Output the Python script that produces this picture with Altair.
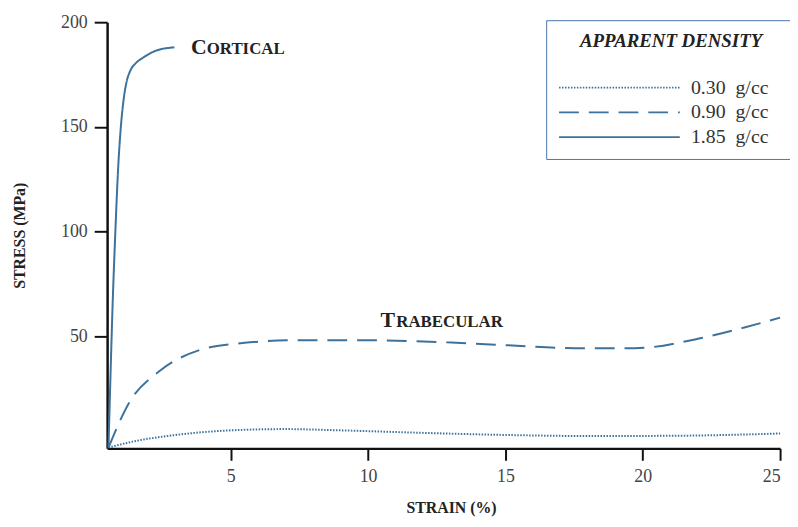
import altair as alt
import pandas as pd

# ---- data ----
series_names = ["0.30\u00a0\u00a0g/cc", "0.90\u00a0\u00a0g/cc", "1.85\u00a0\u00a0g/cc"]
legend_title = "APPARENT DENSITY"

low_x = [0.55, 1.5, 3, 5, 7, 9, 12, 15, 18, 21, 25]
low_y = [-3, 0, 3, 5.2, 5.8, 5.2, 4, 3, 2.5, 2.6, 3.7]

mid_x = [0.55, 1.33, 2.41, 3.86, 5.0, 7.46, 9.98, 12.86, 15.1, 17.55, 19.7, 21.9, 23.7, 25.0]
mid_y = [-3, 19, 33.5, 43.5, 46.3, 48.2, 48.2, 47.2, 45.8, 44.4, 44.4, 48.6, 54.3, 59.0]

high_x = [0.55, 0.62, 0.7, 0.8, 0.9, 1.0, 1.1, 1.2, 1.35, 1.55, 1.8, 2.3, 2.95]
high_y = [-3, 30, 65, 100, 130, 150, 163, 171, 177, 180.5, 183, 186.5, 188]

ann_first = ["C", "T"]
ann_rest = ["ORTICAL", "RABECULAR"]
ann_x = [3.55, 10.45]
ann_y = [185, 54.5]

x_ticks = [5, 10, 15, 20, 25]
y_ticks = [50, 100, 150, 200]

rows = []
for name, xs, ys in [(series_names[0], low_x, low_y),
                     (series_names[1], mid_x, mid_y),
                     (series_names[2], high_x, high_y)]:
    for i, (a, b) in enumerate(zip(xs, ys)):
        rows.append({"density": name, "strain": a, "stress": b, "order": i})
df = pd.DataFrame(rows)

ann = pd.DataFrame({"first": ann_first, "rest": ann_rest, "x": ann_x, "y": ann_y})

LINE = "#3c729c"
SERIF = "Liberation Serif"

xscale = alt.Scale(domain=[0.5, 25], nice=False, zero=False)
yscale = alt.Scale(domain=[-3.4, 200], nice=False, zero=False)

lines = alt.Chart(df).mark_line(interpolate="monotone", strokeWidth=2, color=LINE).encode(
    x=alt.X("strain:Q", scale=xscale,
            axis=alt.Axis(values=x_ticks, title="STRAIN (%)", grid=False, tickSize=12,
                          titleX=347, titleY=60, titleAlign="center", titleBaseline="middle")),
    y=alt.Y("stress:Q", scale=yscale,
            axis=alt.Axis(values=y_ticks, title="STRESS (MPa)", grid=False, tickSize=13,
                          titleX=-88, titleY=215, titleAngle=-90,
                          titleAlign="center", titleBaseline="middle")),
    strokeDash=alt.StrokeDash(
        "density:N",
        scale=alt.Scale(domain=series_names, range=[[1.5, 1.5], [20, 10], [1, 0]]),
        legend=alt.Legend(title=legend_title, orient="none", legendX=443, legendY=-2,
                          symbolType="M-1,0H7.7", symbolSize=784, symbolStrokeWidth=1.8,
                          symbolStrokeColor=LINE, symbolFillColor="transparent",
                          labelFont=SERIF, labelFontSize=20, labelColor="#333",
                          labelOffset=104,
                          labelExpr="datum.label + '\u2800'",
                          titleFont=SERIF, titleFontSize=19, titleFontStyle="italic",
                          titleFontWeight="bold", titleColor="#222", titleLimit=400,
                          titleAnchor="middle", titlePadding=22,
                          padding=12, strokeColor="#4a74ad", fillColor="white",
                          rowPadding=-1),
    ),
    order="order:Q",
)

first = alt.Chart(ann).mark_text(align="left", baseline="alphabetic", font=SERIF,
                                 fontWeight="bold", fontSize=22, color="#222").encode(
    x=alt.X("x:Q", scale=xscale), y=alt.Y("y:Q", scale=yscale), text="first:N")
rest = alt.Chart(ann).mark_text(align="left", baseline="alphabetic", font=SERIF,
                                fontWeight="bold", fontSize=17, color="#222", dx=16).encode(
    x=alt.X("x:Q", scale=xscale), y=alt.Y("y:Q", scale=yscale), text="rest:N")

chart = alt.layer(lines, first, rest).properties(
    width=679, height=430,
    autosize=alt.AutoSizeParams(type="none"),
    padding={"left": 100, "top": 12, "right": 10, "bottom": 75},
).configure_view(stroke=None).configure_axis(
    domainColor="#111", domainWidth=2.5, tickColor="#111", tickWidth=2,
    labelFont=SERIF, labelFontSize=18, labelColor="#444", labelPadding=7,
    titleFont=SERIF, titleFontSize=16, titleFontWeight="bold", titleColor="#222",
)

chart.save("out.html", embed_options={"renderer": "svg", "actions": False})
